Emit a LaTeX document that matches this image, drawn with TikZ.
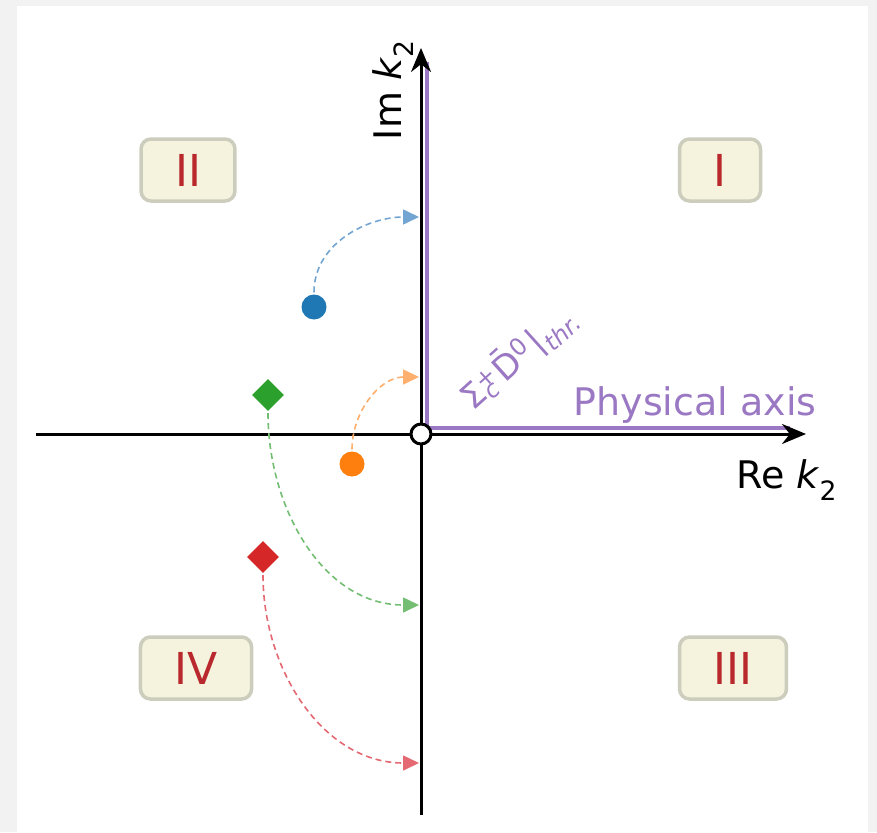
\documentclass[tikz,border=0pt]{standalone}
\usepackage{fontspec}
\setmainfont{DejaVu Sans}
\usetikzlibrary{positioning,arrows.meta,shapes.geometric}
\definecolor{bgcol}{RGB}{242,242,242}
\definecolor{physcol}{RGB}{155,120,195}
\definecolor{regcol}{RGB}{185,40,45}
\definecolor{boxfill}{RGB}{245,243,222}
\definecolor{boxline}{RGB}{205,205,190}
\definecolor{ptblue}{RGB}{31,119,180}
\definecolor{ptorange}{RGB}{255,127,14}
\definecolor{ptgreen}{RGB}{44,160,44}
\definecolor{ptred}{RGB}{214,39,40}
\definecolor{liteblue}{RGB}{115,165,210}
\definecolor{liteorange}{RGB}{255,175,110}
\definecolor{litegreen}{RGB}{115,190,115}
\definecolor{litered}{RGB}{228,105,115}
\newcommand{\kvar}{\hspace{0.3em}\textit{k}\textsubscript{2}}
\newcommand{\thrtext}{Σ\rlap{\textsuperscript{+}}\textsubscript{\textit{c}}\hspace{8pt}\={D}\textsuperscript{0}\hspace{3pt}|\textsubscript{\textit{thr.}}}

\begin{document}
\begin{tikzpicture}[x=1pt, y=-1pt, >=Stealth,
  axislabel/.style={font=\fontsize{38}{40}\selectfont},
  region/.style={draw=boxline, line width=3.5pt, fill=boxfill, rounded corners=10pt,
    text=regcol, font=\fontsize{44}{44}\selectfont, minimum height=62pt,
    inner xsep=34pt, inner ysep=0pt},
  dot/.style={circle, inner sep=0pt, minimum size=25pt},
  gem/.style={diamond, aspect=1, inner sep=0pt, minimum size=32pt},
  trajline/.style={dash pattern=on 6pt off 4pt, line width=1.6pt,
    -{Triangle[length=16pt,width=15pt]}, shorten <=2pt}]
% background panel
\fill[bgcol] (0,0) rectangle (877,832);
\fill[white] (17,6) rectangle (868,832);
% axes
\coordinate (O) at (421,434);
\coordinate (xmin) at (36,434);
\coordinate (xmax) at (806,434);
\coordinate (ymin) at (421,815);
\coordinate (ymax) at (421,48);
\coordinate (ptop) at (427,62);
\coordinate (pcorner) at (427,428);
\coordinate (pright) at (790,428);
\draw[physcol, line width=3.5pt] (ptop) -- (pcorner) -- (pright);
\draw[line width=3pt, -{Stealth[length=24pt,width=20pt]}] (xmin) -- (xmax);
\draw[line width=3pt, -{Stealth[length=24pt,width=20pt]}] (ymin) -- (ymax);
\node[circle, draw, fill=white, line width=3pt, minimum size=20pt, inner sep=0pt] (orig) at (O) {};
% axis labels
\node[axislabel, rotate=90] (imlab) at (393,90) {Im\kvar};
\node[axislabel] (relab) at (787,480) {Re\kvar};
\node[axislabel, text=physcol] (physlab) at (695,405) {Physical axis};
\node[text=physcol, font=\fontsize{34}{36}\selectfont, rotate=42] (thrlab) at (518,357) {\thrtext};
% quadrants
\node[region] (qI) at (720,170) {I};
\node[region] (qII) at (188,170) {II};
\node[region] (qIII) at (733,668) {III};
\node[region] (qIV) at (196,668) {IV};
% poles
\node[dot, fill=ptblue] (pblue) at (314,307) {};
\node[dot, fill=ptorange] (porange) at (352,464) {};
\node[gem, fill=ptgreen] (pgreen) at (268,395) {};
\node[gem, fill=ptred] (pred) at (263,557) {};
\coordinate (tblue) at (419,217);
\coordinate (torange) at (419,377);
\coordinate (tgreen) at (419,605);
\coordinate (tred) at (419,763);
\draw[trajline, liteblue] (pblue.north) to[out=90, in=180] (tblue);
\draw[trajline, liteorange] (porange.north) to[out=90, in=180] (torange);
\draw[trajline, litegreen] (pgreen.south) to[out=-90, in=180] (tgreen);
\draw[trajline, litered] (pred.south) to[out=-90, in=180] (tred);
\end{tikzpicture}
\end{document}
